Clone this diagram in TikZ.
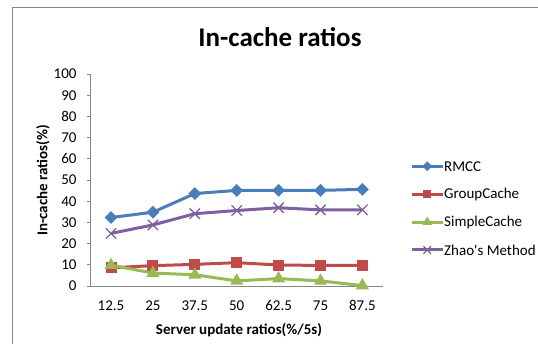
\documentclass[tikz,border=0pt]{standalone}
\usepackage{fontspec}
\setmainfont{Carlito}
\usetikzlibrary{shapes.geometric,shapes.misc,calc}

\definecolor{rmccblue}{HTML}{4A7EBB}
\definecolor{groupred}{HTML}{BE4B48}
\definecolor{simplegreen}{HTML}{98B954}
\definecolor{zhaopurple}{HTML}{7D60A0}
\definecolor{axisgray}{HTML}{868686}

\def\rmccdata{32.3,34.8,43.6,45.1,45.1,45.1,45.6}
\def\groupdata{8.6,9.6,10.2,11.0,9.9,9.7,9.7}
\def\simpledata{9.8,6.1,5.3,2.4,3.5,2.4,0.2}
\def\zhaodata{24.8,28.8,34.1,35.6,36.9,35.9,35.9}

\tikzset{
  serline/.style={line width=3pt, line join=round},
  rmccmark/.style={diamond, fill=rmccblue, inner sep=0pt, minimum width=13pt, minimum height=13pt},
  groupmark/.style={rectangle, fill=groupred, inner sep=0pt, minimum size=11pt},
  simplemark/.style={regular polygon, regular polygon sides=3, fill=simplegreen, inner sep=0pt, minimum size=15pt},
  zhaomark/.style={cross out, draw=zhaopurple, line width=1.3pt, inner sep=0pt, minimum size=9pt},
  legmark/.style={scale=0.75, transform shape},
  ticklabel/.style={font=\fontsize{15}{18}\selectfont, text=black},
}

\begin{document}
\begin{tikzpicture}[x=1pt, y=-1pt]
\useasboundingbox (0,0) rectangle (538,344);
% chart frame
\coordinate (framebl) at (12.5,344);
\coordinate (frametl) at (12.5,7.5);
\coordinate (frametr) at (538,7.5);
\draw[axisgray, line width=1.3pt] (framebl) -- (frametl) -- (frametr);

\node[anchor=base, font=\fontsize{27}{32}\selectfont\bfseries] (title) at (280,46.4) {In-cache ratios};

% axes
\coordinate (origin) at (90,286);
\coordinate (ytop) at (90,74);
\coordinate (xend) at (383,286);
\draw[axisgray, line width=0.8pt] (ytop) -- (origin) -- (xend);
\foreach \v in {0,10,...,100} {
  \draw[axisgray, line width=0.8pt] (87,286-2.12*\v) -- (90,286-2.12*\v);
  \node[ticklabel, anchor=east] (ylab\v) at (80,286-2.12*\v) {\v};
}
\foreach \lab [count=\i from 0] in {12.5,25,37.5,50,62.5,75,87.5}
  \node[ticklabel] (xlab\i) at (111+41.9*\i,305.8) {\lab};

\node[ticklabel, font=\fontsize{15}{18}\selectfont\bfseries] (xtitle) at (239,330.6) {Server update ratios(\%/5s)};
\node[ticklabel, font=\fontsize{15}{18}\selectfont\bfseries, rotate=90] (ytitle) at (43,180.5) {In-cache ratios(\%)};

% data points
\foreach \v [count=\i from 0] in \rmccdata   \coordinate (r\i) at (111+41.9*\i,286-2.12*\v);
\foreach \v [count=\i from 0] in \groupdata  \coordinate (g\i) at (111+41.9*\i,286-2.12*\v);
\foreach \v [count=\i from 0] in \simpledata \coordinate (s\i) at (111+41.9*\i,286-2.12*\v);
\foreach \v [count=\i from 0] in \zhaodata   \coordinate (z\i) at (111+41.9*\i,286-2.12*\v);

% series
\draw[serline, rmccblue] (r0) \foreach \i in {1,...,6} { -- (r\i) };
\foreach \i in {0,...,6} \node[rmccmark] (rm\i) at (r\i) {};
\draw[serline, groupred] (g0) \foreach \i in {1,...,6} { -- (g\i) };
\foreach \i in {0,...,6} \node[groupmark] (gm\i) at (g\i) {};
\draw[serline, simplegreen] (s0) \foreach \i in {1,...,6} { -- (s\i) };
\foreach \i in {0,...,6} \node[simplemark] (sm\i) at (s\i) {};
\draw[serline, zhaopurple] (z0) \foreach \i in {1,...,6} { -- (z\i) };
\foreach \i in {0,...,6} \node[zhaomark] (zm\i) at (z\i) {};

% legend
\foreach \nm/\col/\mk/\txt [count=\k from 0] in {rmcc/rmccblue/rmccmark/RMCC, group/groupred/groupmark/GroupCache, simple/simplegreen/simplemark/SimpleCache, zhao/zhaopurple/zhaomark/Zhao\textquotesingle s Method} {
  \coordinate (\nm-a) at (411.5,166.3+27.9*\k);
  \coordinate (\nm-b) at (443,166.3+27.9*\k);
  \draw[serline, \col] (\nm-a) -- (\nm-b);
  \node[\mk, legmark] (\nm-mk) at ($(\nm-a)!0.5!(\nm-b)$) {};
  \node[ticklabel, anchor=west, inner sep=1pt] (\nm-txt) at (\nm-b) {\txt};
}
\end{tikzpicture}
\end{document}
